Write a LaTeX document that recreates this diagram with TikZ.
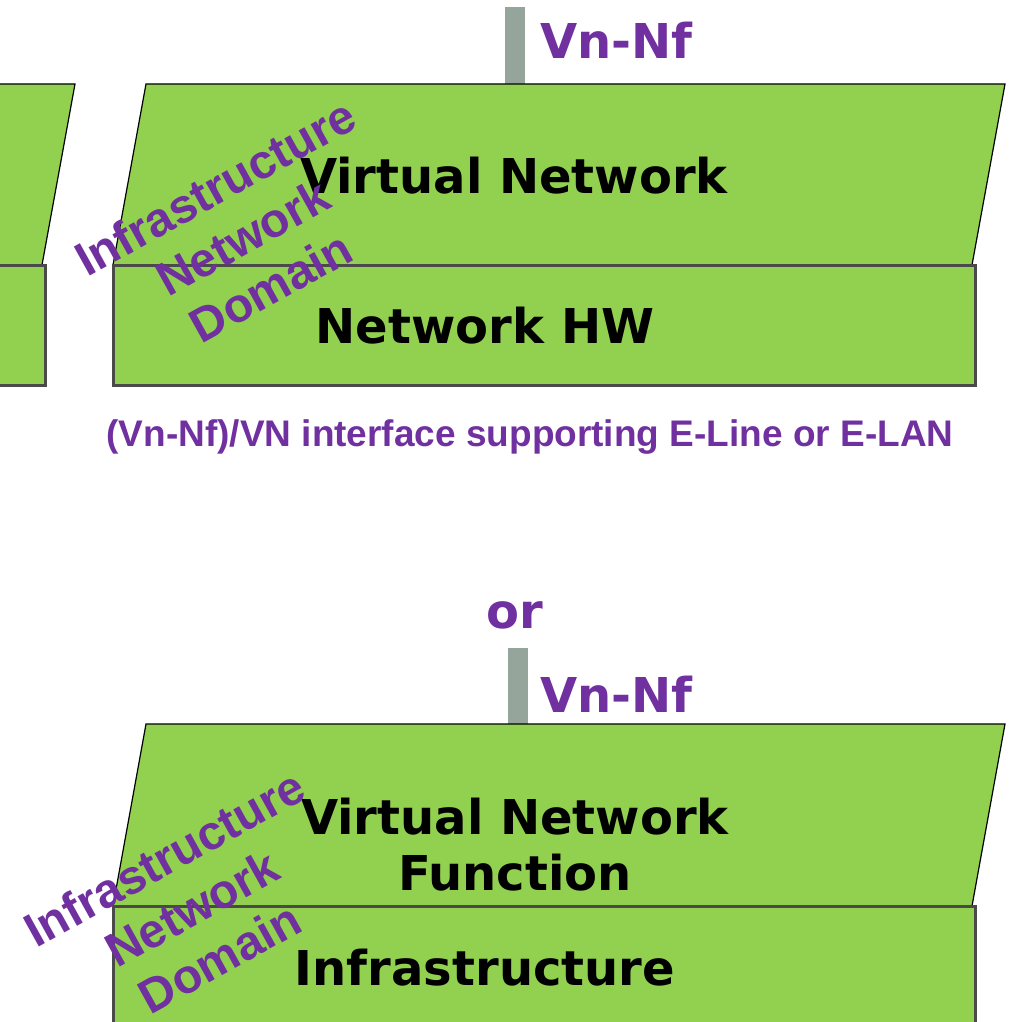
\documentclass[tikz,border=0pt]{standalone}
\usepackage{fontspec}
\setmainfont{DejaVu Sans}
\newfontfamily\arialfont{Liberation Sans}
\definecolor{grn}{HTML}{92D050}
\definecolor{purp}{HTML}{7030A0}
\definecolor{bargray}{HTML}{95A59B}
\definecolor{boxedge}{HTML}{4A4A4A}
\tikzset{
  layer/.style={fill=grn, draw=black, line width=1.2pt, line join=miter},
  hwbox/.style={fill=grn, draw=boxedge, line width=3pt},
  ifbar/.style={fill=bargray, draw=none},
  blk/.style={font=\fontsize{48}{57}\selectfont\bfseries, text=black, anchor=base, inner sep=0pt},
  pbl/.style={font=\fontsize{48}{57}\selectfont\bfseries, text=purp, anchor=base, inner sep=0pt},
  rottxt/.style={font=\arialfont\fontsize{48}{57}\selectfont\bfseries, text=purp, align=center, rotate=29, inner sep=0pt},
  capt/.style={font=\arialfont\fontsize{37}{44}\selectfont\bfseries, text=purp, anchor=base, inner sep=0pt}
}
\begin{document}
\begin{tikzpicture}[x=1pt,y=-1pt]
\useasboundingbox (0,0) rectangle (1010,1022);
\clip (0,0) rectangle (1010,1022);
% ---------- top section ----------
% partial shapes on the left
\draw[layer] (-20,84) -- (75,84) -- (42,265) -- (-20,265) -- cycle;
\draw[hwbox] (-20,265) rectangle (45,385);
% interface bar
\fill[ifbar] (505,7) rectangle (525,84);
\node[pbl, anchor=base west] (vn1) at (540,59) {Vn-Nf};
% virtual network layer
\draw[layer] (146,84) -- (1005,84) -- (972,265) -- (113,265) -- cycle;
\node[blk] (vnet) at (514,193) {Virtual Network};
% hardware box
\draw[hwbox] (113,265) rectangle (975,385);
\node[blk] (nhw) at (485,343) {Network HW};
% rotated label
\node[rottxt] (ind1) at (243,237) {Infrastructure\\Network\\Domain};
% caption
\node[capt] (cap) at (530,446) {(Vn-Nf)/VN interface supporting E-Line or E-LAN};
% or
\node[pbl] (or) at (515,628) {or};
% ---------- bottom section ----------
\fill[ifbar] (508,648) rectangle (528,724);
\node[pbl, anchor=base west] (vn2) at (540,712) {Vn-Nf};
\draw[layer] (146,724) -- (1005,724) -- (972,906) -- (113,906) -- cycle;
\node[blk] (vnf1) at (515,834) {Virtual Network};
\node[blk] (vnf2) at (515,890) {Function};
\draw[hwbox] (113,906) rectangle (975,1060);
\node[blk] (infra) at (485,985) {Infrastructure};
\node[rottxt] (ind2) at (192,908) {Infrastructure\\Network\\Domain};
\end{tikzpicture}
\end{document}
